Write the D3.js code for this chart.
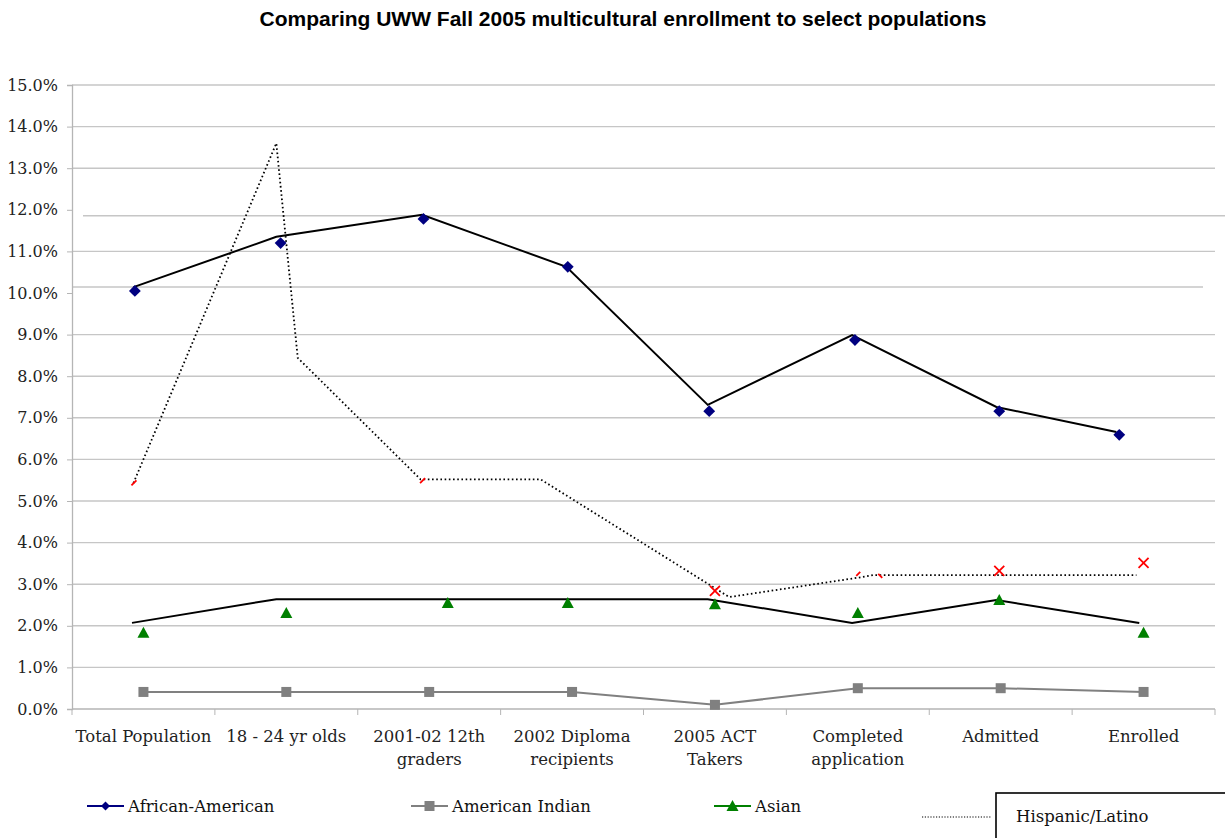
<!DOCTYPE html>
<html><head><meta charset="utf-8">
<script src="https://cdn.jsdelivr.net/npm/d3@7"></script>
<style>body{margin:0;background:#fff;}svg{display:block;}</style>
</head><body>
<svg id="c" width="1225" height="838"></svg>
<script>
// ---------- data ----------
const categories = ["Total Population","18 - 24 yr olds","2001-02 12th|graders","2002 Diploma|recipients","2005 ACT|Takers","Completed|application","Admitted","Enrolled"];
const yTicks = [0,1,2,3,4,5,6,7,8,9,10,11,12,13,14,15];

// marker series (percent) with their category-index positions
const africanAmerican    = [10.05, 11.2, 11.78, 10.63, 7.16, 8.87, 7.16, 6.59];
const africanAmericanIdx = [-0.06, 0.96, 1.96, 2.97, 3.96, 4.98, 5.99, 6.83];
const americanIndian     = [0.41, 0.41, 0.41, 0.41, 0.1, 0.5, 0.5, 0.41];
const asian              = [1.83, 2.31, 2.55, 2.55, 2.52, 2.31, 2.62, 1.83];
const asianIdx           = [0, 1, 2.13, 2.97, 4, 5, 5.99, 7];
const hispanicMarks      = [5.45, 5.5, 2.84, 3.2, 3.32, 3.51];
const hispanicMarksIdx   = [-0.07, 1.95, 4.0, 5.08, 5.99, 7.0];
const hispanicMarkKind   = ["arm", "arm", "full", "split", "full", "full"];

// overlay trend lines (percent) with category-index positions
const afAmLine    = [10.14, 11.35, 11.88, 10.63, 7.31, 8.99, 7.26, 6.66];
const afAmLineIdx = [-0.07, 0.93, 1.95, 2.96, 3.95, 4.96, 5.97, 6.81];
const asianLine    = [2.07, 2.64, 2.64, 2.64, 2.64, 2.07, 2.62, 2.07];
const asianLineIdx = [-0.08, 0.93, 1.95, 2.96, 3.95, 4.96, 5.97, 6.97];
const hispLine    = [5.43, 13.6, 8.44, 5.52, 5.52, 2.69, 3.15, 3.22, 3.22];
const hispLineIdx = [-0.07, 0.93, 1.08, 1.94, 2.78, 4.1, 4.99, 5.11, 6.95];

const legendNames = ["African-American","American Indian","Asian","Hispanic/Latino"];

// ---------- layout ----------
const svg = d3.select("#c");
const L = 72, R = 1215, T = 85, B = 709;
const x = d3.scaleLinear().domain([-0.5, 7.5]).range([L, R]);
const band = d3.scaleBand().domain(d3.range(categories.length)).range([L, R]);
const y = d3.scaleLinear().domain([0, 15]).range([B, T]);
const serif = "'DejaVu Serif', 'Liberation Serif', serif";

// title
svg.append("text").attr("x", 623).attr("y", 26).attr("text-anchor","middle")
  .style("font-family","'Liberation Sans', Arial, sans-serif").attr("font-weight","bold")
  .attr("font-size", 21).attr("fill","#000")
  .text("Comparing UWW Fall 2005 multicultural enrollment to select populations");

// gridlines
const gridNudge = {12: {dy: 6, x0: 83, x1: 1225}, 10: {dy: -6, x0: L, x1: 1203}};
const grid = svg.append("g");
yTicks.filter(t => t > 0).forEach(t => {
  const n = gridNudge[t] || {dy: 0, x0: L, x1: R};
  grid.append("line").attr("x1", n.x0).attr("x2", n.x1)
    .attr("y1", y(t) + n.dy).attr("y2", y(t) + n.dy)
    .attr("stroke","#c6c6c6").attr("stroke-width",1.4);
});

// y axis
const yAxis = svg.append("g").attr("transform",`translate(${L},0)`)
  .call(d3.axisLeft(y).tickValues(yTicks).tickSize(5).tickPadding(9).tickFormat(d => d.toFixed(1) + "%"));
yAxis.attr("font-family", null).attr("font-size", null);
yAxis.select(".domain").attr("stroke","#b5b5b5").attr("stroke-width",1.3);
yAxis.selectAll(".tick line").attr("stroke","#b5b5b5");
yAxis.selectAll(".tick text").style("font-family", serif).style("font-size", "16px").attr("fill","#222");

// x axis
const xAxisG = svg.append("g").attr("transform",`translate(0,${B})`);
xAxisG.append("line").attr("x1", L).attr("x2", R).attr("stroke","#b5b5b5").attr("stroke-width",1.3);
d3.range(categories.length + 1).forEach(i => {
  const xx = i < categories.length ? band(i) : R;
  xAxisG.append("line").attr("x1", xx).attr("x2", xx).attr("y1", 0).attr("y2", 6).attr("stroke","#b5b5b5");
});
categories.forEach((c, i) => {
  const lines = c.split("|");
  const t = xAxisG.append("text").attr("text-anchor","middle").style("font-family", serif)
    .style("font-size", "16.5px").attr("fill","#222");
  lines.forEach((ln, k) => t.append("tspan").attr("x", x(i)).attr("y", 33 + k * 23).text(ln));
});

// overlay lines
const lineGen = (vals, idx) => d3.line().x((d, i) => x(idx[i])).y(d => y(d))(vals);
svg.append("path").attr("d", lineGen(afAmLine, afAmLineIdx)).attr("fill","none")
  .attr("stroke","#000").attr("stroke-width",2);
svg.append("path").attr("d", lineGen(asianLine, asianLineIdx)).attr("fill","none")
  .attr("stroke","#000").attr("stroke-width",2);
svg.append("path").attr("d", lineGen(hispLine, hispLineIdx)).attr("fill","none")
  .attr("stroke","#000").attr("stroke-width",1.8).attr("stroke-dasharray","1.6 2.6");

// American Indian line + squares
const idx8 = d3.range(8);
svg.append("path").attr("d", lineGen(americanIndian, idx8)).attr("fill","none")
  .attr("stroke","#808080").attr("stroke-width",2);
svg.append("g").selectAll("rect").data(americanIndian).join("rect")
  .attr("x", (d, i) => x(i) - 5).attr("y", d => y(d) - 5).attr("width", 10).attr("height", 10)
  .attr("fill","#808080");

// diamonds
svg.append("g").selectAll("path").data(africanAmerican).join("path")
  .attr("d", d3.symbol().type(d3.symbolSquare).size(70))
  .attr("transform", (d, i) => `translate(${x(africanAmericanIdx[i])},${y(d)}) rotate(45)`)
  .attr("fill","#000080");

// triangles
svg.append("g").selectAll("path").data(asian).join("path")
  .attr("d", "M0,-6L6,5L-6,5Z")
  .attr("transform", (d, i) => `translate(${x(asianIdx[i])},${y(d)})`)
  .attr("fill","#008000");

// Hispanic red x markers
const xg = svg.append("g").attr("stroke","#ff0000").attr("stroke-width",1.8).attr("fill","none");
hispanicMarks.forEach((v, i) => {
  const cx = x(hispanicMarksIdx[i]), cy = y(v), k = hispanicMarkKind[i];
  let d;
  if (k === "full") d = "M-5,-5L5,5M-5,5L5,-5";
  else if (k === "arm") d = "M-2,3L3,-2";
  else d = "M-13,0L-9,-4M9,-2L13,2";
  xg.append("path").attr("d", d).attr("transform", `translate(${cx},${cy})`);
});

// legend
const lg = svg.append("g").style("font-family", serif).style("font-size", "16.5px").attr("fill","#111");
const legY = 806;
const legItems = [
  {x0: 87, color: "#000080", mark: "diamond"},
  {x0: 411, color: "#808080", mark: "square"},
  {x0: 714, color: "#008000", mark: "triangle"}
];
legItems.forEach((it, i) => {
  lg.append("line").attr("x1", it.x0).attr("x2", it.x0 + 37).attr("y1", legY).attr("y2", legY)
    .attr("stroke", it.color).attr("stroke-width", 2);
  const cx = it.x0 + 18.5;
  if (it.mark === "diamond") lg.append("path").attr("d", d3.symbol().type(d3.symbolSquare).size(40)())
    .attr("transform", `translate(${cx},${legY}) rotate(45)`).attr("fill", it.color);
  else if (it.mark === "square") lg.append("rect").attr("x", cx - 5).attr("y", legY - 5)
    .attr("width", 10).attr("height", 10).attr("fill", it.color);
  else lg.append("path").attr("d","M0,-6L6,5L-6,5Z").attr("transform",`translate(${cx},${legY})`).attr("fill", it.color);
  lg.append("text").attr("x", it.x0 + 41).attr("y", legY + 6).text(legendNames[i]);
});
lg.append("line").attr("x1", 922).attr("x2", 991).attr("y1", 817).attr("y2", 817)
  .attr("stroke","#000").attr("stroke-width",1.2).attr("stroke-dasharray","1.2 1.6");
lg.append("rect").attr("x", 996).attr("y", 793).attr("width", 240).attr("height", 60)
  .attr("fill","#fff").attr("stroke","#000").attr("stroke-width",1.6);
lg.append("text").attr("x", 1016).attr("y", 822).text(legendNames[3]);
</script>
</body></html>
